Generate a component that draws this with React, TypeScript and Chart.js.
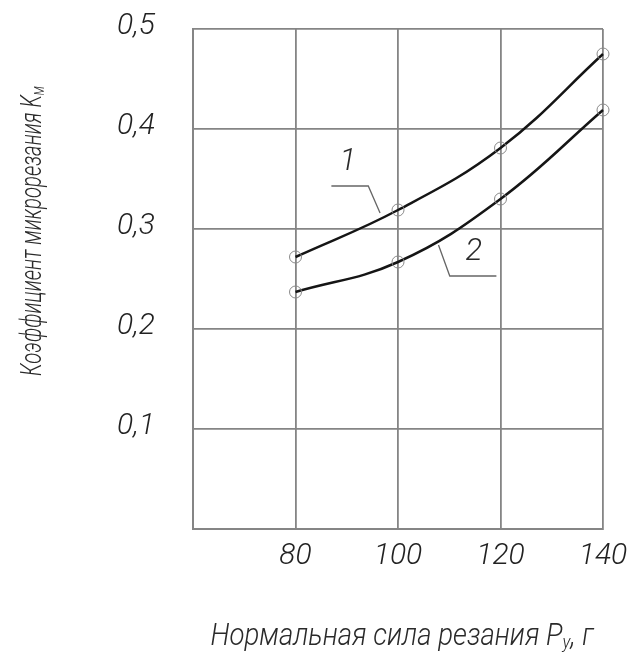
import React, { useEffect, useRef } from "react";
import { Chart, registerables } from "chart.js";

Chart.register(...registerables);

// ---- data ----
const xValues = [80, 100, 120, 140];
const curve1 = [0.272, 0.319, 0.381, 0.475];
const curve2 = [0.237, 0.267, 0.33, 0.419];

const xMin = 60;
const xMax = 140;
const xStep = 20;
const yMin = 0;
const yMax = 0.5;
const yStep = 0.1;

const xTitle = "Нормальная сила резания P";
const xTitleSub = "у";
const xTitleTail = ", г";
const yTitle = "Коэффициент микрорезания K";
const yTitleSub = "м";

// curve labels (data coordinates) and their leader lines
const label1Text = "1";
const label1At = [90.2, 0.367];
const leader1X = [87.0, 94.2, 96.5];
const leader1Y = [0.343, 0.343, 0.316];
const label2Text = "2";
const label2At = [114.8, 0.277];
const leader2X = [107.9, 110.1, 119.2];
const leader2Y = [0.284, 0.253, 0.253];

const FONT = "Roboto, 'Noto Sans', sans-serif";
const TEXT = "#2a2a2a";
const GRID = "#858585";

const whiteBg = {
  id: "whiteBg",
  beforeDraw(chart: any) {
    const ctx = chart.ctx;
    ctx.save();
    ctx.fillStyle = "#fff";
    ctx.fillRect(0, 0, chart.width, chart.height);
    ctx.restore();
  },
};

// draws text with a subscript, centered at the origin, squeezed to a target width
function drawSubText(ctx: any, main: string, sub: string, tail: string, size: number, targetW: number) {
  const big = `italic 300 ${size}px ${FONT}`;
  const small = `italic 300 ${Math.round(size * 0.62)}px ${FONT}`;
  ctx.font = big;
  const w1 = ctx.measureText(main).width;
  const w3 = ctx.measureText(tail).width;
  ctx.font = small;
  const w2 = ctx.measureText(sub).width;
  const total = w1 + w2 + w3;
  const k = targetW / total;
  ctx.scale(k, 1);
  let x = -total / 2;
  const base = size * 0.36;
  ctx.textBaseline = "alphabetic";
  ctx.textAlign = "left";
  ctx.font = big;
  ctx.fillText(main, x, base);
  x += w1;
  ctx.font = small;
  ctx.fillText(sub, x, base + size * 0.1);
  x += w2;
  ctx.font = big;
  ctx.fillText(tail, x, base);
}

const annotations = {
  id: "annotations",
  afterDatasetsDraw(chart: any) {
    const ctx = chart.ctx;
    const xs = chart.scales.x;
    const ys = chart.scales.y;
    ctx.save();
    ctx.strokeStyle = "#666";
    ctx.lineWidth = 1.3;
    const leaders = [
      [leader1X, leader1Y],
      [leader2X, leader2Y],
    ];
    for (const [lx, ly] of leaders) {
      ctx.beginPath();
      lx.forEach((v: number, i: number) => {
        const px = xs.getPixelForValue(v);
        const py = ys.getPixelForValue(ly[i]);
        if (i === 0) ctx.moveTo(px, py);
        else ctx.lineTo(px, py);
      });
      ctx.stroke();
    }
    ctx.fillStyle = TEXT;
    ctx.font = `italic 300 31px ${FONT}`;
    ctx.textAlign = "center";
    ctx.textBaseline = "middle";
    ctx.fillText(label1Text, xs.getPixelForValue(label1At[0]), ys.getPixelForValue(label1At[1]));
    ctx.fillText(label2Text, xs.getPixelForValue(label2At[0]), ys.getPixelForValue(label2At[1]));

    // axis titles
    const area = chart.chartArea;
    ctx.fillStyle = TEXT;
    ctx.save();
    ctx.translate((area.left + area.right) / 2 + 4, chart.height - 20);
    drawSubText(ctx, xTitle, xTitleSub, xTitleTail, 31, 383);
    ctx.restore();
    ctx.save();
    ctx.translate(30, 231);
    ctx.rotate(-Math.PI / 2);
    drawSubText(ctx, yTitle, yTitleSub, "", 30, 290);
    ctx.restore();
    ctx.restore();
  },
};

export default function App() {
  const ref = useRef<HTMLCanvasElement>(null);
  useEffect(() => {
    if (!ref.current) return;
    const mk = (ys: number[]) => xValues.map((x, i) => ({ x, y: ys[i] }));
    const ds = (data: any) => ({
      data,
      borderColor: "#151515",
      borderWidth: 2.5,
      tension: 0.4,
      clip: false,
      pointRadius: 6,
      pointBorderWidth: 1,
      pointBorderColor: "#8a8a8a",
      pointBackgroundColor: "rgba(0,0,0,0)",
      fill: false,
    });
    const tickFont = { family: FONT, size: 30, style: "italic", weight: 300 };
    const chart = new Chart(ref.current, {
      type: "line",
      data: { datasets: [ds(mk(curve1)), ds(mk(curve2))] },
      options: {
        animation: false,
        responsive: false,
        devicePixelRatio: 1,
        layout: { padding: { top: 29, right: 32, left: 0, bottom: 0 } },
        plugins: { legend: { display: false }, tooltip: { enabled: false } },
        scales: {
          x: {
            type: "linear",
            min: xMin,
            max: xMax,
            ticks: {
              stepSize: xStep,
              callback: (v: any) => (v === xMin ? "" : String(v)),
              font: tickFont,
              color: "#222",
              padding: 9,
              maxRotation: 0,
            },
            grid: { color: GRID, lineWidth: 1.8, drawTicks: false },
            border: { color: GRID, width: 2 },
            afterFit: (s: any) => {
              s.height = 125;
              s.paddingLeft = 0;
              s.paddingRight = 0;
            },
          },
          y: {
            min: yMin,
            max: yMax,
            ticks: {
              stepSize: yStep,
              callback: (v: any) => (Math.abs(v) < 1e-9 ? "" : Number(v).toFixed(1).replace(".", ",")),
              font: tickFont,
              color: "#222",
              padding: 38,
              labelOffset: -3,
            },
            grid: { color: GRID, lineWidth: 1.8, drawTicks: false },
            border: { color: GRID, width: 2 },
            afterFit: (s: any) => {
              s.width = 193;
              s.paddingTop = 0;
              s.paddingBottom = 0;
            },
          },
        },
      } as any,
      plugins: [whiteBg, annotations],
    });
    return () => chart.destroy();
  }, []);
  return (
    <div style={{ position: "fixed", left: 0, top: 0 }}>
      <canvas ref={ref} width={635} height={654} />
    </div>
  );
}
